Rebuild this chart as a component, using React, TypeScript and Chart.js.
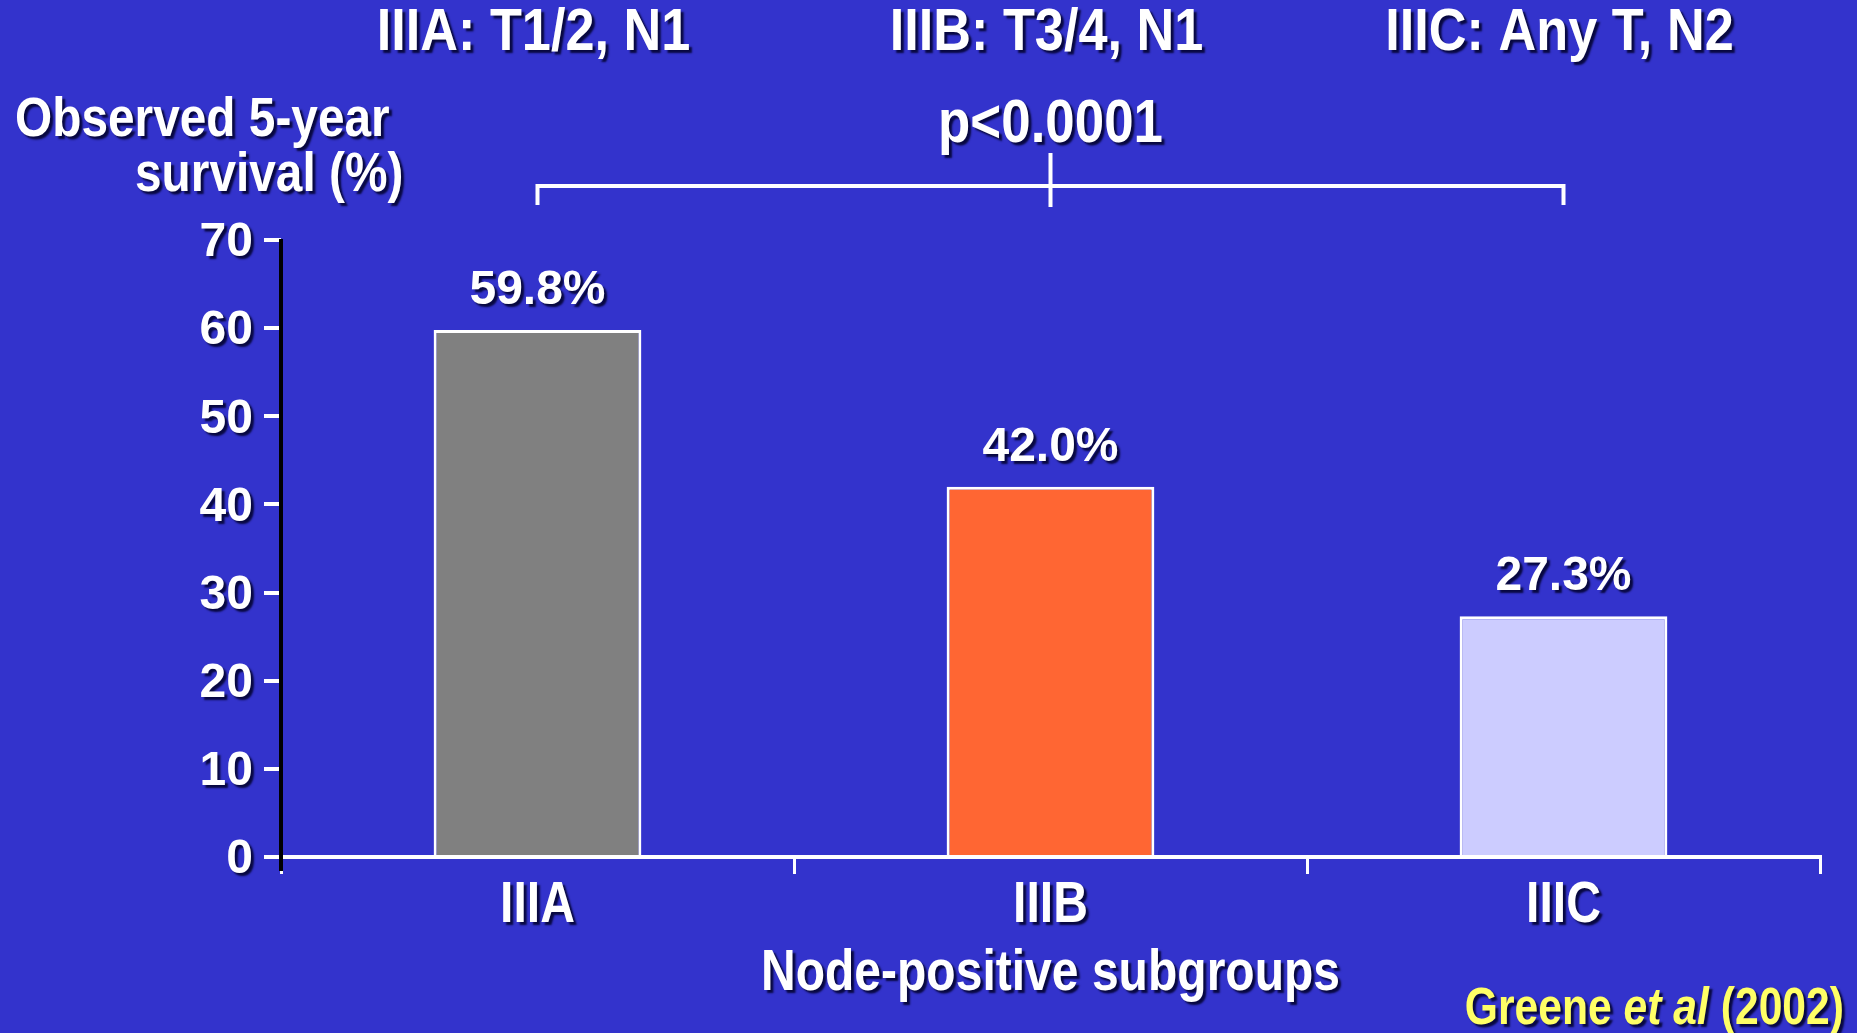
import React, { useEffect, useRef } from "react";
import { Chart, registerables } from "chart.js";

Chart.register(...registerables);

// ---- data ----
const categories = ["IIIA", "IIIB", "IIIC"];
const survival = [59.8, 42.0, 27.3];
const valueLabels = ["59.8%", "42.0%", "27.3%"];
const groupLabels = ["IIIA: T1/2, N1", "IIIB: T3/4, N1", "IIIC: Any T, N2"];
const yTickValues = [0, 10, 20, 30, 40, 50, 60, 70];
const barColors = ["#808080", "#FF6633", "#CCCCFF"];
const pValueText = "p<0.0001";
const yTitleLines = ["Observed 5-year", "survival (%)"];
const xTitleText = "Node-positive subgroups";
const sourceParts = ["Greene ", "et al", " (2002)"];
const sourceItalic = [false, true, false];

const BG = "#3333CC";
const WIDE = "'Liberation Sans', Arial, sans-serif";

function detectNarrow(): { family: string; scale: number } {
  const c = document.createElement("canvas").getContext("2d");
  if (!c) return { family: WIDE, scale: 0.82 };
  const t = "IIIA: T1/2, N1 Observed";
  c.font = "bold 100px monospace";
  const w1 = c.measureText(t).width;
  c.font = "bold 100px 'Liberation Sans Narrow', monospace";
  const w2 = c.measureText(t).width;
  if (Math.abs(w1 - w2) > 1) return { family: "'Liberation Sans Narrow', 'Arial Narrow', sans-serif", scale: 1 };
  return { family: WIDE, scale: 0.82 };
}

function shadowOn(ctx: CanvasRenderingContext2D) {
  ctx.shadowColor = "rgba(0,0,40,0.85)";
  ctx.shadowOffsetX = 3;
  ctx.shadowOffsetY = 3;
  ctx.shadowBlur = 2;
}
function shadowOff(ctx: CanvasRenderingContext2D) {
  ctx.shadowColor = "rgba(0,0,0,0)";
  ctx.shadowOffsetX = 0;
  ctx.shadowOffsetY = 0;
  ctx.shadowBlur = 0;
}

export default function App() {
  const ref = useRef<HTMLCanvasElement | null>(null);

  useEffect(() => {
    document.body.style.margin = "0";
    document.body.style.background = BG;
    const canvas = ref.current;
    if (!canvas) return;
    const NARROW = detectNarrow();

    const font = (size: number, narrow: boolean, italic = false) =>
      `${italic ? "italic " : ""}bold ${size}px ${narrow ? NARROW.family : WIDE}`;

    const measure = (ctx: CanvasRenderingContext2D, s: string, size: number, narrow: boolean, italic = false) => {
      ctx.save();
      ctx.font = font(size, narrow, italic);
      const w = ctx.measureText(s).width * (narrow ? NARROW.scale : 1);
      ctx.restore();
      return w;
    };

    const text = (
      ctx: CanvasRenderingContext2D,
      s: string,
      x: number,
      y: number,
      size: number,
      o: { narrow?: boolean; align?: CanvasTextAlign; color?: string; italic?: boolean; stretch?: number } = {}
    ) => {
      const narrow = o.narrow !== false;
      ctx.save();
      ctx.font = font(size, narrow, !!o.italic);
      ctx.fillStyle = o.color || "#FFFFFF";
      ctx.textAlign = o.align || "center";
      ctx.textBaseline = "alphabetic";
      shadowOn(ctx);
      ctx.translate(x, y);
      ctx.scale((narrow ? NARROW.scale : 1) * (o.stretch || 1), 1);
      ctx.fillText(s, 0, 0);
      ctx.restore();
    };

    const decor = {
      id: "decor",
      afterDatasetsDraw(chart: any) {
        const ctx: CanvasRenderingContext2D = chart.ctx;
        const xs = chart.scales.x;
        const ys = chart.scales.y;
        const cx = categories.map((_, i) => xs.getPixelForValue(i));

        // value labels over bars
        survival.forEach((v, i) => {
          text(ctx, valueLabels[i], cx[i], ys.getPixelForValue(v) - 26, 48, { narrow: false });
        });

        // group labels at top
        groupLabels.forEach((s, i) => text(ctx, s, cx[i] - 4, 50, 59, { stretch: 1.08 }));

        // p-value
        text(ctx, pValueText, cx[1], 142, 62, { stretch: 1.04 });

        // bracket
        ctx.save();
        shadowOff(ctx);
        ctx.strokeStyle = "#FFFFFF";
        ctx.lineWidth = 4;
        ctx.lineCap = "butt";
        ctx.lineJoin = "miter";
        ctx.beginPath();
        ctx.moveTo(cx[0], 205);
        ctx.lineTo(cx[0], 186);
        ctx.lineTo(cx[2], 186);
        ctx.lineTo(cx[2], 205);
        ctx.moveTo(cx[1], 153);
        ctx.lineTo(cx[1], 207);
        ctx.stroke();
        ctx.restore();

        // y title
        text(ctx, yTitleLines[0], 15, 136, 55, { align: "left", stretch: 1.06 });
        text(ctx, yTitleLines[1], 135, 191, 55, { align: "left", stretch: 1.06 });

        // x category labels
        categories.forEach((c, i) => text(ctx, c, cx[i], 922, 57, { stretch: 1.03 }));

        // x title
        text(ctx, xTitleText, (chart.chartArea.left + chart.chartArea.right) / 2, 990, 58, { stretch: 1.01 });

        // source
        const widths = sourceParts.map((s, i) => measure(ctx, s, 52, true, sourceItalic[i]));
        let sx = 1844 - widths.reduce((a, b) => a + b, 0);
        sourceParts.forEach((s, i) => {
          text(ctx, s, sx, 1024, 52, { align: "left", color: "#FFFF66", italic: sourceItalic[i] });
          sx += widths[i];
        });

        // shadow for tick labels drawn next (z = 1 layers)
        shadowOn(ctx);
      },
      afterDraw(chart: any) {
        const ctx: CanvasRenderingContext2D = chart.ctx;
        shadowOff(ctx);
        const ys = chart.scales.y;
        const left = chart.chartArea.left;
        ctx.save();
        ctx.strokeStyle = "#000000";
        ctx.lineWidth = 4;
        ctx.beginPath();
        ctx.moveTo(left, ys.getPixelForValue(70) - 1);
        ctx.lineTo(left, ys.getPixelForValue(0) + 14);
        ctx.stroke();
        ctx.restore();
      },
    };

    const chart = new Chart(canvas, {
      type: "bar",
      data: {
        labels: categories,
        datasets: [
          {
            data: survival,
            backgroundColor: barColors,
            borderColor: "#FFFFFF",
            borderWidth: 3,
            borderSkipped: "bottom",
            categoryPercentage: 1,
            barPercentage: 0.405,
          },
        ],
      },
      options: {
        animation: false,
        responsive: false,
        devicePixelRatio: 1,
        layout: { padding: { left: 0, top: 240, right: 37, bottom: 0 } },
        plugins: { legend: { display: false }, tooltip: { enabled: false } },
        scales: {
          x: {
            afterFit: (s: any) => {
              s.height = 1033 - 857;
            },
            grid: {
              display: true,
              offset: true,
              drawOnChartArea: false,
              drawTicks: true,
              tickLength: 17,
              color: "#FFFFFF",
              lineWidth: 3,
            },
            border: { display: true, color: "#FFFFFF", width: 4 },
            ticks: { display: false },
          },
          y: {
            min: 0,
            max: 70,
            afterFit: (s: any) => {
              s.width = 281;
            },
            afterBuildTicks: (s: any) => {
              s.ticks = yTickValues.map((v) => ({ value: v }));
            },
            grid: {
              display: true,
              drawOnChartArea: false,
              drawTicks: true,
              tickLength: 17,
              color: "#FFFFFF",
              lineWidth: 4,
            },
            border: { display: false },
            ticks: {
              z: 1,
              padding: 11,
              labelOffset: 3,
              color: "#FFFFFF",
              font: { family: WIDE, size: 48, weight: "bold" },
              callback: (v: any) => String(v),
            },
          },
        },
      },
      plugins: [decor],
    } as any);

    return () => chart.destroy();
  }, []);

  return (
    <div style={{ position: "fixed", left: 0, top: 0, width: 1857, height: 1033, background: BG }}>
      <canvas ref={ref} width={1857} height={1033} style={{ display: "block", width: 1857, height: 1033 }} />
    </div>
  );
}
